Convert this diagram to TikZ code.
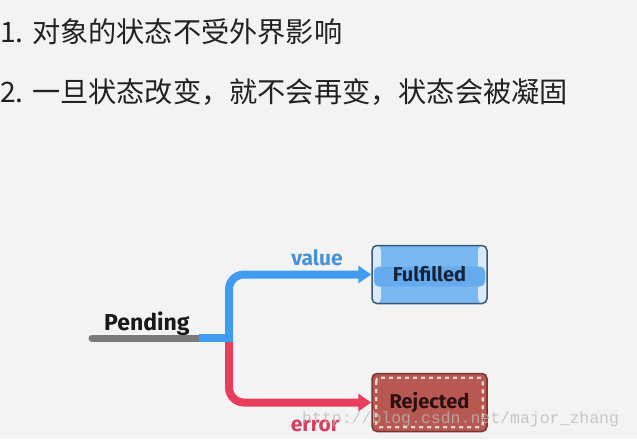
\documentclass[tikz,border=0pt]{standalone}
\usepackage{fontspec}
\newfontfamily\cjk{Noto Sans CJK SC}
\newfontfamily\hand{Fira Sans}
\newfontfamily\wmfont{Liberation Mono}
\usetikzlibrary{arrows.meta}
\definecolor{bg}{HTML}{F3F3F3}
\definecolor{txt}{HTML}{222222}
\definecolor{bline}{HTML}{3F9CF0}
\definecolor{rline}{HTML}{E83E5E}
\definecolor{gline}{HTML}{7A7A7A}
\definecolor{vallab}{HTML}{4A92D6}
\definecolor{errlab}{HTML}{D63E5C}
\definecolor{fulfill}{HTML}{7AB8F3}
\definecolor{fulband}{HTML}{67ABEF}
\definecolor{fuledge}{HTML}{D8EAFB}
\definecolor{fulbord}{HTML}{3C5870}
\definecolor{rejfill}{HTML}{B85852}
\definecolor{rejbord}{HTML}{7E3430}
\definecolor{stitch}{HTML}{F4D6CC}
\definecolor{HTMLnavy}{HTML}{14243A}
\definecolor{HTMLdark}{HTML}{2A1010}
\tikzset{
  cjktext/.style={anchor=base west, inner sep=0pt, text=txt,
    font=\cjk\fontsize{28.2}{31}\selectfont},
  hlabel/.style={inner sep=0pt, font=\hand\bfseries\fontsize{21}{24}\selectfont},
  pendlabel/.style={anchor=base west, inner sep=0pt, text=black!90,
    font=\hand\bfseries\fontsize{23}{26}\selectfont},
  statebox/.style={minimum width=115pt, minimum height=58pt, inner sep=0pt,
    rounded corners=5pt, line width=1.5pt,
    font=\hand\bfseries\fontsize{20}{22}\selectfont},
  fulbox/.style={statebox, draw=fulbord, fill=fulfill, text=HTMLnavy,
    path picture={
      \fill[fuledge] (path picture bounding box.north west) rectangle
        ([xshift=9pt]path picture bounding box.south west);
      \fill[fuledge] (path picture bounding box.north east) rectangle
        ([xshift=-9pt]path picture bounding box.south east);
      \fill[fulband] ([xshift=2pt,yshift=-21pt]path picture bounding box.north west) rectangle
        ([xshift=-2pt,yshift=17pt]path picture bounding box.south east);
    }},
  rejbox/.style={statebox, draw=rejbord, fill=rejfill, text=HTMLdark},
  stitchline/.style={draw=stitch, line width=2.2pt, rounded corners=3pt,
    dash pattern=on 4pt off 4pt},
  flow/.style={line width=8pt, -{Triangle[length=13pt,width=17pt]}},
  watermark/.style={anchor=base west, inner sep=0pt, text=gray!55, opacity=0.75,
    font=\wmfont\fontsize{16.5}{18}\selectfont},
}
\begin{document}
\begin{tikzpicture}[x=1pt,y=-1pt]
\fill[bg] (0,0) rectangle (637,439);
\useasboundingbox (0,0) rectangle (637,439);

% heading lines
\node[cjktext] (l1) at (0,42) {1. 对象的状态不受外界影响};
\node[cjktext] (l2) at (0,102) {2. 一旦状态改变，就不会再变，状态会被凝固};

% state boxes
\node[fulbox] (ful) at (429.5,274.5) {Fulfilled};
\node[rejbox] (rej) at (429.5,402.5) {Rejected};
\draw[stitchline] ([xshift=5pt,yshift=-5pt]rej.north west) rectangle ([xshift=-5pt,yshift=5pt]rej.south east);

% pending line
\coordinate (s) at (92,338);
\coordinate (b) at (203,338);
\coordinate (j) at (229,338);
\node[pendlabel] (pend) at (104,330) {Pending};

\draw[gline, line width=7pt, line cap=round] (s) -- (b);
\draw[flow, rline, rounded corners=15pt] (j) |- (rej.west);
\draw[bline, line width=8pt, line cap=rect] (b) -- (j);
\draw[flow, bline, rounded corners=15pt] (j) |- (ful.west);

% labels
\node[hlabel, text=vallab] (val) at (317,258) {value};
\node[hlabel, text=errlab] (err) at (315,426) {error};

% watermark
\node[watermark] (wm) at (302,423) {http://blog.csdn.net/major\_zhang};
\end{tikzpicture}
\end{document}
